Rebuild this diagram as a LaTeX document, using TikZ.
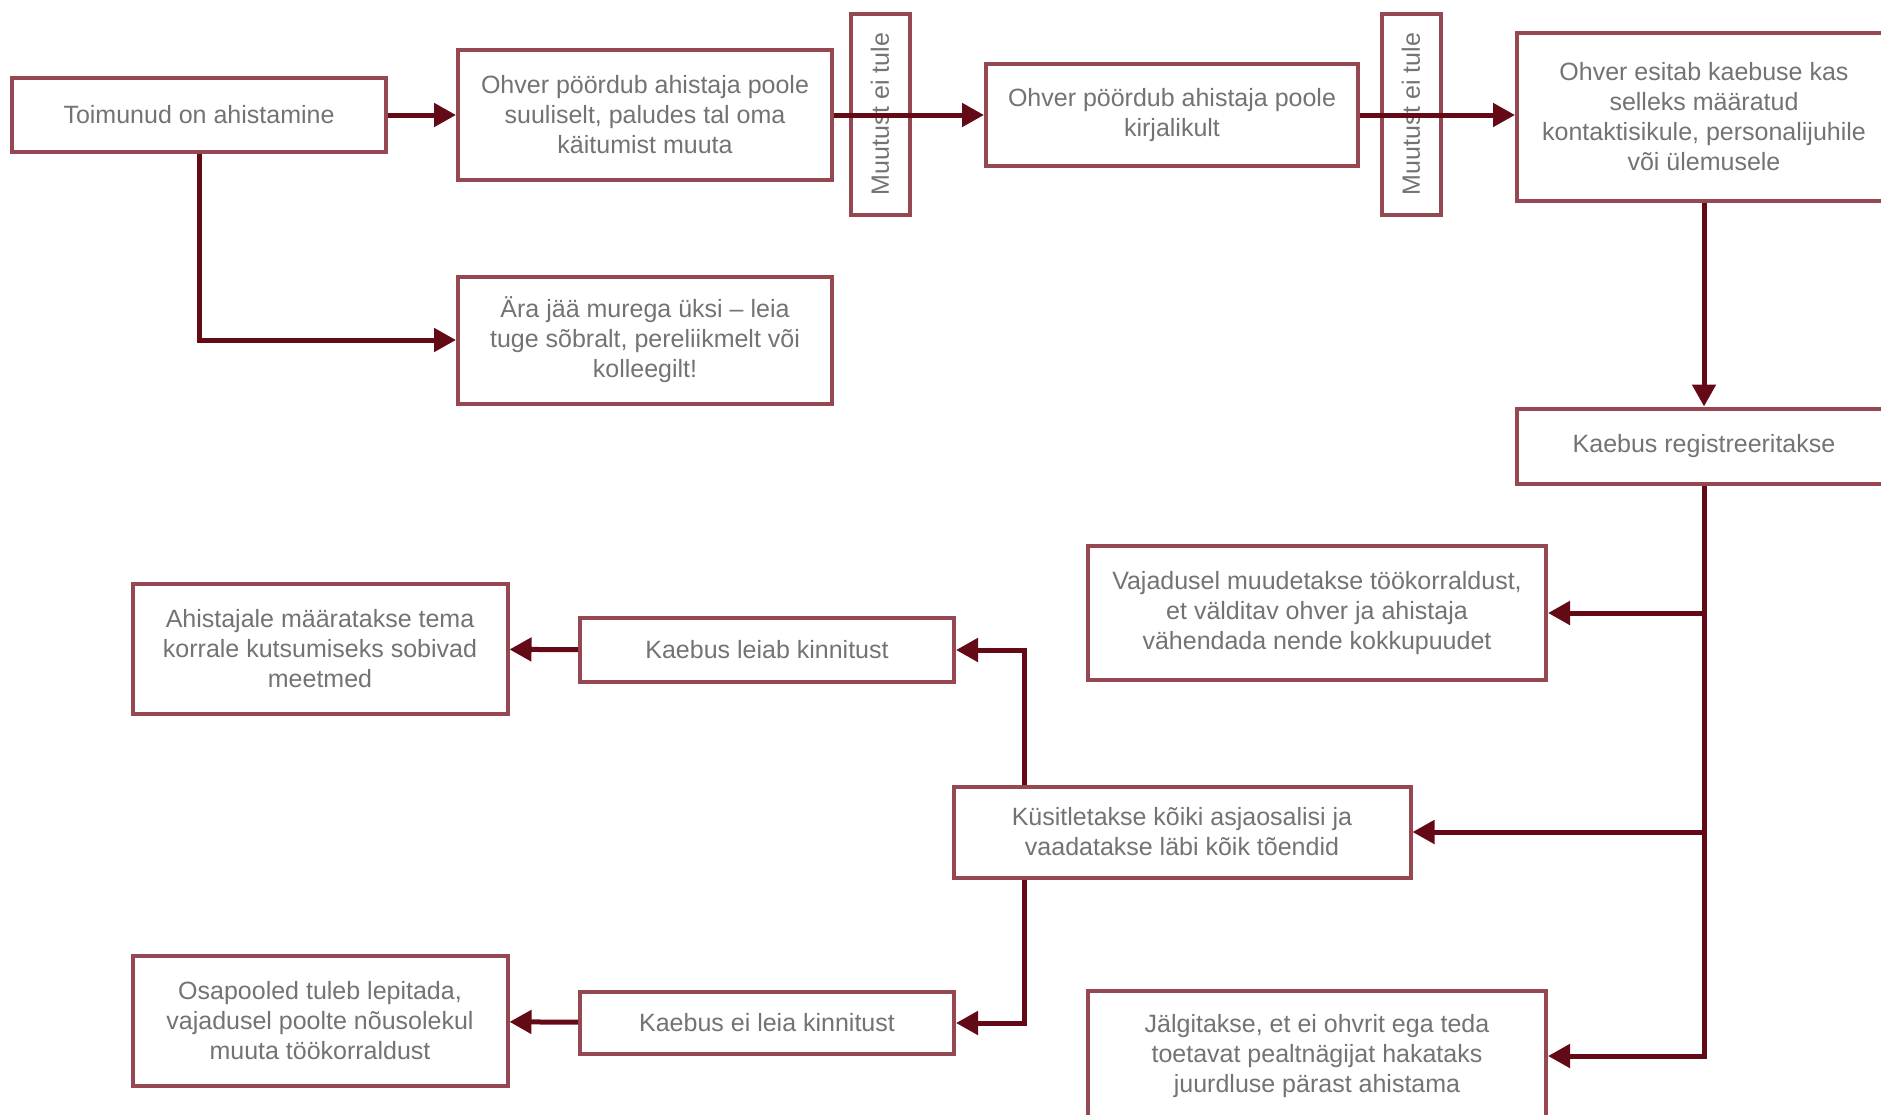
\documentclass[tikz,border=0pt]{standalone}
\usepackage{fontspec}
\setmainfont{Liberation Sans}
\usepackage{tikz}
\usetikzlibrary{positioning, arrows.meta, calc}
\definecolor{cBox}{RGB}{150,72,82}
\definecolor{cLine}{RGB}{100,10,22}
\definecolor{cText}{RGB}{115,115,115}

\begin{document}
\begin{tikzpicture}[x=1pt, y=-1pt, >={Triangle[length=22pt,width=23pt]},
    box/.style={draw=cBox, line width=4pt, fill=white, text=cText, align=center, inner sep=0pt, font=\fontsize{25}{30}\selectfont},
    vbox/.style={box, rotate=90, minimum width=201pt, minimum height=59pt},
    flow/.style={->, draw=cLine, line width=5pt}]
    \useasboundingbox (0,0) rectangle (1881,1114);

    % Boxes
    \node[box, minimum width=374pt, minimum height=74pt] (start) at (199,115) {Toimunud on ahistamine};
    \node[box, minimum width=374pt, minimum height=130pt] (oral) at (645,115) {Ohver pöördub ahistaja poole\\suuliselt, paludes tal oma\\käitumist muuta};
    \node[box, minimum width=374pt, minimum height=127pt] (support) at (645,340) {Ära jää murega üksi – leia\\tuge sõbralt, pereliikmelt või\\kolleegilt!};
    \node[vbox] (nochA) at (880,114) {Muutust ei tule};
    \node[box, minimum width=372pt, minimum height=102pt] (written) at (1172,115) {Ohver pöördub ahistaja poole\\kirjalikult};
    \node[vbox] (nochB) at (1411,114) {Muutust ei tule};
    \node[box, minimum width=374pt, minimum height=168pt] (complaint) at (1704,117) {Ohver esitab kaebuse kas\\selleks määratud\\kontaktisikule, personalijuhile\\või ülemusele};
    \node[box, minimum width=374pt, minimum height=75pt] (reg) at (1704,446) {Kaebus registreeritakse};
    \node[box, minimum width=458pt, minimum height=134pt] (workorg) at (1317,613) {Vajadusel muudetakse töökorraldust,\\et välditav ohver ja ahistaja\\vähendada nende kokkupuudet};
    \node[box, minimum width=457pt, minimum height=91pt] (inquiry) at (1182,832) {Küsitletakse kõiki asjaosalisi ja\\vaadatakse läbi kõik tõendid};
    \node[box, minimum width=458pt, minimum height=130pt] (watch) at (1317,1056) {Jälgitakse, et ei ohvrit ega teda\\toetavat pealtnägijat hakataks\\juurdluse pärast ahistama};
    \node[box, minimum width=374pt, minimum height=64pt] (yes) at (767,650) {Kaebus leiab kinnitust};
    \node[box, minimum width=375pt, minimum height=130pt] (measures) at (320,649) {Ahistajale määratakse tema\\korrale kutsumiseks sobivad\\meetmed};
    \node[box, minimum width=374pt, minimum height=62pt] (no) at (767,1023) {Kaebus ei leia kinnitust};
    \node[box, minimum width=375pt, minimum height=130pt] (reconcile) at (320,1021) {Osapooled tuleb lepitada,\\vajadusel poolte nõusolekul\\muuta töökorraldust};
    \coordinate (split) at (1024,832);

    % Arrows
    \path (start) edge[flow] (oral);
    \draw[flow] (oral.east) -- (oral.east -| written.west);
    \draw[flow] (written.east) -- (written.east -| complaint.west);
    \path (complaint) edge[flow] (reg);
    \draw[flow] (start.south) |- (support.west);
    \draw[flow] (reg.south) |- (watch.east);
    \draw[flow] (reg.south |- workorg.east) -- (workorg.east);
    \draw[flow] (reg.south |- inquiry.east) -- (inquiry.east);
    \draw[flow] (inquiry.north -| split) |- (yes.east);
    \draw[flow] (inquiry.south -| split) |- (no.east);
    \path (yes) edge[flow] (measures);
    \path (no) edge[flow] (reconcile);
\end{tikzpicture}
\end{document}
